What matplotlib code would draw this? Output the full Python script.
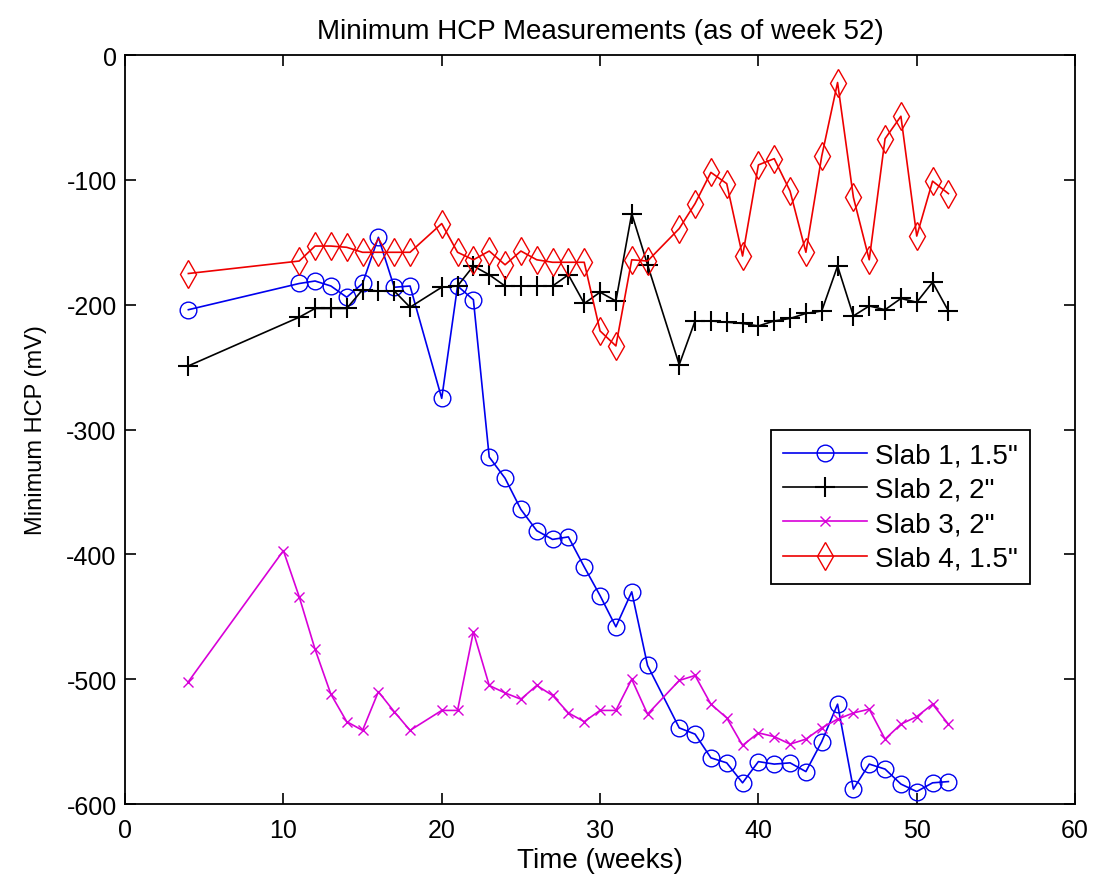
import numpy as np
import matplotlib
matplotlib.use("Agg")
import matplotlib.pyplot as plt

plt.rcParams['font.family'] = ['Liberation Sans', 'DejaVu Sans']
plt.rcParams['axes.unicode_minus'] = False

# semanas y lecturas minimas (mV)
semanas_1 = [4, 11, 12, 13, 14, 15, 16, 17, 18, 20, 21, 22, 23, 24, 25, 26, 27, 28, 29, 30,
             31, 32, 33, 35, 36, 37, 38, 39, 40, 41, 42, 43, 44, 45, 46, 47, 48, 49, 50, 51, 52]
slab_1 = [-204, -183, -181, -185, -194, -183, -146, -186, -185, -275, -185, -196, -322, -339,
          -364, -381, -388, -386, -410, -433, -458, -430, -489, -539, -544, -563, -567, -583,
          -566, -568, -567, -574, -550, -520, -588, -568, -572, -584, -590, -583, -582]

semanas_2 = [4, 11, 12, 13, 14, 15, 16, 17, 18, 20, 21, 22, 23, 24, 25, 26, 27, 28, 29, 30,
             31, 32, 33, 35, 36, 37, 38, 39, 40, 41, 42, 43, 44, 45, 46, 47, 48, 49, 50, 51, 52]
slab_2 = [-249, -210, -203, -203, -203, -188, -189, -189, -202, -186, -185, -169, -176, -185,
          -185, -185, -185, -176, -199, -190, -197, -127, -168, -248, -213, -213, -214, -215,
          -217, -213, -211, -207, -205, -169, -209, -201, -204, -195, -198, -182, -205]

semanas_3 = [4, 10, 11, 12, 13, 14, 15, 16, 17, 18, 20, 21, 22, 23, 24, 25, 26, 27, 28, 29,
             30, 31, 32, 33, 35, 36, 37, 38, 39, 40, 41, 42, 43, 44, 45, 46, 47, 48, 49, 50, 51, 52]
slab_3 = [-502, -397, -434, -476, -512, -534, -541, -510, -526, -541, -525, -525, -462, -505,
          -511, -516, -505, -513, -527, -534, -525, -525, -500, -528, -501, -497, -520, -531,
          -553, -543, -546, -552, -548, -539, -532, -527, -524, -548, -536, -530, -520, -536]

semanas_4 = [4, 11, 12, 13, 14, 15, 16, 17, 18, 20, 21, 22, 23, 24, 25, 26, 27, 28, 29, 30,
             31, 32, 33, 35, 36, 37, 38, 39, 40, 41, 42, 43, 44, 45, 46, 47, 48, 49, 50, 51, 52]
slab_4 = [-175, -165, -153, -153, -154, -158, -158, -158, -158, -135, -158, -164, -157, -168,
          -157, -164, -166, -166, -166, -221, -233, -164, -165, -139, -119, -94, -103, -161,
          -88, -83, -109, -158, -81, -22, -114, -164, -67, -49, -145, -101, -111]

fig = plt.figure(figsize=(10.94, 8.87), dpi=100)
ax = fig.add_axes([0.1143, 0.0924, 0.8684, 0.8444])

fs = 17
ax.plot(semanas_1, slab_1, color='#0000ee', marker='o', ms=12, mfc='none', lw=1.2,
        label='Slab 1, 1.5"')
ax.plot(semanas_2, slab_2, color='black', marker='+', ms=14, mew=1.5, lw=1.2,
        label='Slab 2, 2"')
ax.plot(semanas_3, slab_3, color='#d800d8', marker='x', ms=7, lw=1.2,
        label='Slab 3, 2"')
ax.plot(semanas_4, slab_4, color='#ee0000', marker='d', ms=14, mfc='none', lw=1.2,
        label='Slab 4, 1.5"')

ax.set_xlim(0, 60)
ax.set_ylim(-600, 0)
ax.set_xticks(np.arange(0, 61, 10))
ax.set_yticks(np.arange(-600, 1, 100))
ax.tick_params(direction='in', top=True, right=True, length=8, width=1.2, labelsize=fs + 1, pad=6)
ax.tick_params(axis='x', pad=10)
for s in ax.spines.values():
    s.set_linewidth(1.3)

ax.set_title('Minimum HCP Measurements (as of week 52)', fontsize=fs + 3, pad=12)
ax.set_xlabel('Time (weeks)', fontsize=fs + 3, labelpad=4)
ax.set_ylabel('Minimum HCP (mV)', fontsize=fs, labelpad=14)

leg = ax.legend(loc='upper left', bbox_to_anchor=(0.665, 0.518), fontsize=fs + 3,
                fancybox=False, edgecolor='black', handlelength=3.0, labelspacing=0.3,
                borderpad=0.45, handletextpad=0.3, framealpha=1)
leg.get_frame().set_linewidth(1.3)

fig.savefig('out.png', dpi=100)
